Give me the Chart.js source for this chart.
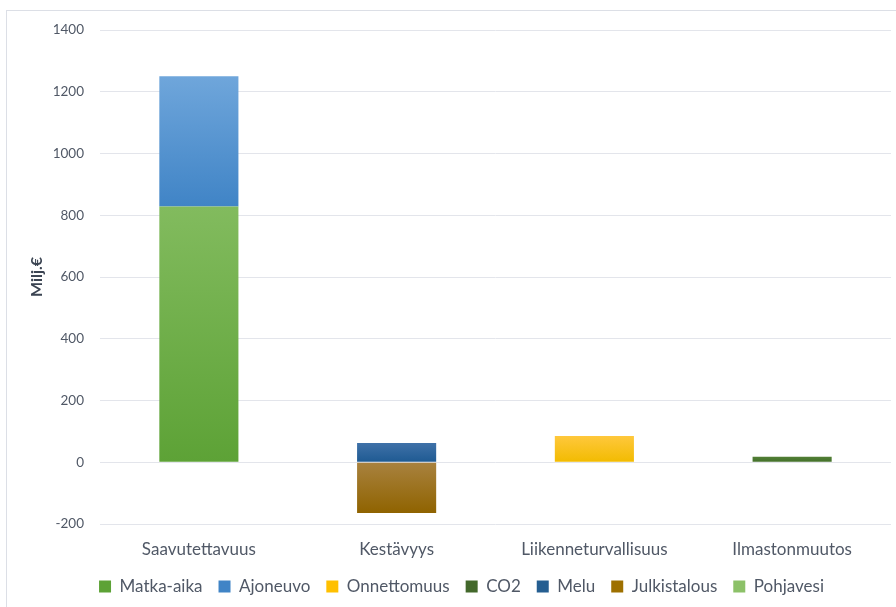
<!DOCTYPE html>
<html lang="fi">
  <head>
    <meta charset="UTF-8" />
    <title>Hyödyt</title>
    <style>
      html, body { margin: 0; padding: 0; background: #fff; }
      #wrap { position: relative; width: 896px; height: 607px; overflow: hidden; }
      #frame { position: absolute; left: 6px; top: 10px; width: 900px; height: 620px; border: 1px solid #dcdfe6; box-sizing: border-box; }
      #chart { position: absolute; left: 0; top: 0; }
    </style>
  </head>
  <body>
    <div id="wrap">
      <div id="frame"></div>
      <canvas id="chart" width="896" height="607"></canvas>
    </div>

    <script src="https://cdn.jsdelivr.net/npm/chart.js"></script>
<script>
      // luokat ja sarjat
      const categories = ["Saavutettavuus", "Kestävyys", "Liikenneturvallisuus", "Ilmastonmuutos"];
      const matkaAika = [828, 0, 0, 0];
      const ajoneuvo = [422, 0, 0, 0];
      const onnettomuus = [0, 0, 85, 0];
      const co2 = [0, 0, 0, 18];
      const melu = [0, 62, 0, 0];
      const julkistalous = [0, -164, 0, 0];
      const pohjavesi = [0, 0, 0, 0];
      const yTicks = [-200, 0, 200, 400, 600, 800, 1000, 1200, 1400];

      const fontName = "Lato, 'Open Sans', sans-serif";
      const textColor = "#505866";

      // pylvään liukuväri (vaalea ylhäällä, tumma alhaalla)
      function grad(top, bottom, flat) {
        return function (ctx) {
          const c = ctx.chart;
          if (ctx.type !== "data" || !c.chartArea) return flat;
          const i = ctx.dataIndex;
          const v = ctx.raw;
          if (!v) return flat;
          let base = 0;
          for (let k = 0; k < ctx.datasetIndex; k++) {
            const w = c.data.datasets[k].data[i];
            if (w !== 0 && (w > 0) === (v > 0)) base += w;
          }
          const y0 = c.scales.y.getPixelForValue(base);
          const y1 = c.scales.y.getPixelForValue(base + v);
          const g = c.ctx.createLinearGradient(0, Math.min(y0, y1), 0, Math.max(y0, y1));
          g.addColorStop(0, top);
          g.addColorStop(1, bottom);
          return g;
        };
      }

      function ds(label, data, top, bottom, flat) {
        return {
          label: label,
          data: data,
          backgroundColor: grad(top, bottom, flat),
          borderWidth: 0,
          categoryPercentage: 1.0,
          barPercentage: 0.4,
        };
      }

      const ctx = document.getElementById("chart").getContext("2d");
      new Chart(ctx, {
        type: "bar",
        data: {
          labels: categories,
          datasets: [
            ds("Matka-aika", matkaAika, "#82bb5e", "#5da236", "#70ad47"),
            ds("Ajoneuvo", ajoneuvo, "#6fa6db", "#4084c6", "#5b9bd5"),
            ds("Onnettomuus", onnettomuus, "#ffc83c", "#f2bb00", "#ffc000"),
            ds("CO2", co2, "#527f35", "#43702a", "#43682b"),
            ds("Melu", melu, "#3f71a8", "#1e5a92", "#255e91"),
            ds("Julkistalous", julkistalous, "#a9823f", "#8f6300", "#9e7000"),
            ds("Pohjavesi", pohjavesi, "#a9d18e", "#8cc168", "#8cc168"),
          ],
        },
        options: {
          responsive: false,
          animation: false,
          layout: { padding: { left: 32, right: 5, top: 30, bottom: 2 } },
          plugins: {
            tooltip: { enabled: false },
            legend: {
              position: "bottom",
              labels: {
                boxWidth: 12,
                boxHeight: 12,
                padding: 16,
                color: textColor,
                font: { family: fontName, size: 17 },
              },
            },
          },
          scales: {
            x: {
              stacked: true,
              grid: { display: false, drawTicks: false },
              border: { display: false },
              ticks: { color: textColor, font: { family: fontName, size: 17 }, padding: 15 },
              afterFit: (axis) => {
                axis.height = 38;
              },
            },
            y: {
              stacked: true,
              min: -200,
              max: 1400,
              afterBuildTicks: (axis) => {
                axis.ticks = yTicks.map((v) => ({ value: v }));
              },
              afterFit: (axis) => {
                axis.width = 68;
              },
              grid: { color: "#e3e5eb", lineWidth: 1, drawTicks: false },
              border: { display: false },
              ticks: {
                color: textColor,
                font: { family: fontName, size: 13.5 },
                padding: 16,
                callback: (v) => String(v),
              },
              title: {
                display: true,
                text: "Milj.€",
                color: "#3b4452",
                padding: { top: -3, bottom: 0 },
                font: { family: fontName, size: 16, weight: "bold", lineHeight: 1 },
              },
            },
          },
        },
      });
    </script>
  </body>
</html>
